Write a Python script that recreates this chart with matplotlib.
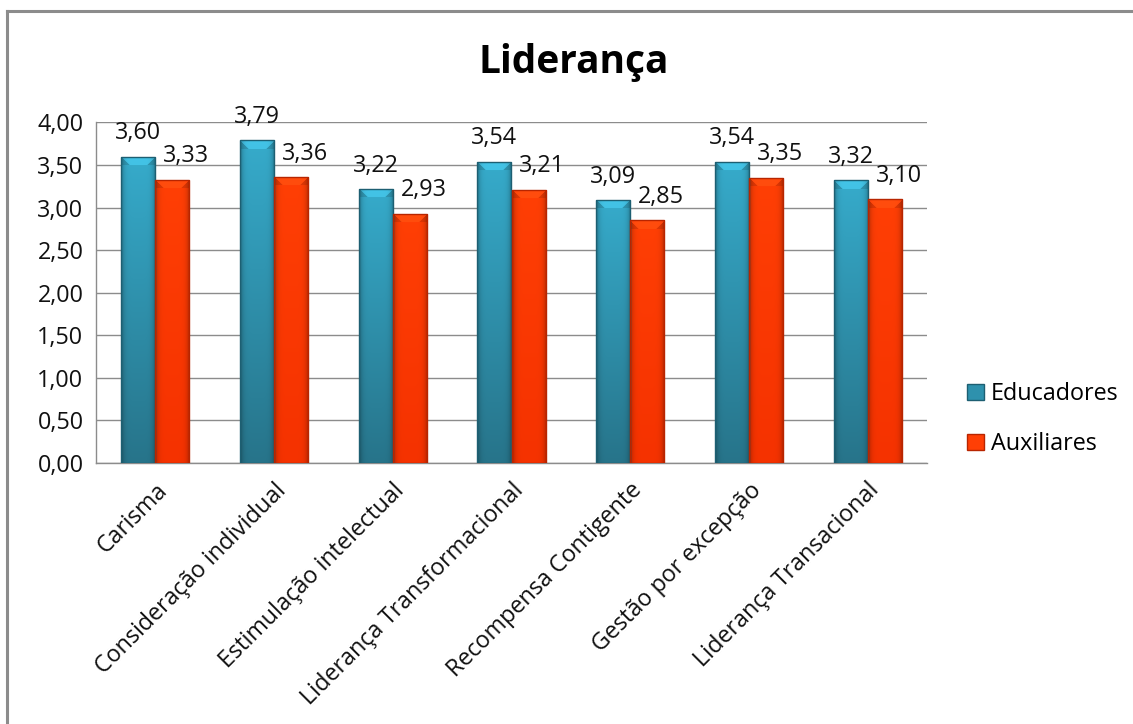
import matplotlib
matplotlib.use("Agg")
import matplotlib.pyplot as plt
import numpy as np
from matplotlib.lines import Line2D
from matplotlib.patches import Patch
from matplotlib.ticker import FuncFormatter

plt.rcParams['font.family'] = ['Open Sans', 'DejaVu Sans']

categorias = ["Carisma", "Consideração individual", "Estimulação intelectual",
              "Liderança Transformacional", "Recompensa Contigente",
              "Gestão por excepção", "Liderança Transacional"]
educadores = [3.60, 3.79, 3.22, 3.54, 3.09, 3.54, 3.32]
auxiliares = [3.33, 3.36, 2.93, 3.21, 2.85, 3.35, 3.10]
series_nomes = ["Educadores", "Auxiliares"]

W, H = 1133, 724
FS = 16.8
fig = plt.figure(figsize=(W / 100, H / 100), dpi=100)
ax = fig.add_axes([96 / W, 1 - 463 / H, (927 - 96) / W, (463 - 122.5) / H])

x = np.arange(len(categorias))
bw = 0.287

# colours: (top, bottom, edge)
blue = (np.array([0x36, 0xAB, 0xCB]) / 255, np.array([0x27, 0x74, 0x8A]) / 255, "#1d5f72")
red = (np.array([0xFF, 0x3F, 0x05]) / 255, np.array([0xF5, 0x32, 0x00]) / 255, "#b82500")

ax.set_xlim(-0.5, len(categorias) - 0.5)
ax.set_ylim(0, 4)
fig.canvas.draw()


def shade_bar(rect, cols):
    top, bot, edge = cols
    x0, y0 = rect.get_x(), rect.get_y()
    w, h = rect.get_width(), rect.get_height()
    p0 = ax.transData.transform((x0, y0))
    p1 = ax.transData.transform((x0 + w, y0 + h))
    npx_w = max(int(round(p1[0] - p0[0])), 2)
    npx_h = max(int(round(p1[1] - p0[1])), 2)
    t = np.linspace(0, 1, npx_h)[:, None]
    base = top[None, None, :] * (1 - t[..., None]) + bot[None, None, :] * t[..., None]
    img = np.repeat(base, npx_w, axis=1)
    u = np.linspace(-1, 1, npx_w)[None, :]
    shade = 1 - 0.30 * np.abs(u) ** 6
    img = img * shade[..., None]
    # top bevel
    bev = 9
    for r in range(min(bev, npx_h)):
        c0, c1 = r, npx_w - r
        img[r, :c0] = img[r, :c0] * 0.88
        img[r, c1:] = img[r, c1:] * 0.88
        img[r, c0:c1] = np.clip(img[r, c0:c1] * 1.10 + 0.03, 0, 1)
    im = ax.imshow(np.clip(img, 0, 1), extent=(x0, x0 + w, y0, y0 + h),
                   aspect='auto', zorder=3, interpolation='bilinear', origin='upper')
    im.set_clip_path(rect)
    rect.set_edgecolor(edge)
    rect.set_linewidth(1.0)
    rect.set_facecolor('none')
    rect.set_zorder(4)


bars1 = ax.bar(x - bw / 2, educadores, bw, color=blue[0], zorder=3)
bars2 = ax.bar(x + bw / 2, auxiliares, bw, color=red[0], zorder=3)
for r in bars1:
    shade_bar(r, blue)
for r in bars2:
    shade_bar(r, red)

ax.set_xlim(-0.5, len(categorias) - 0.5)
ax.set_ylim(0, 4)

fmt = lambda v: "{:.2f}".format(v).replace(".", ",")
for xi, v in zip(x, educadores):
    ax.annotate(fmt(v), (xi - bw / 2, v), xytext=(0, 12.5), textcoords='offset points',
                ha='center', va='baseline', fontsize=FS, color='#111111', zorder=5)
for xi, v in zip(x, auxiliares):
    ax.annotate(fmt(v), (xi + bw / 2, v), xytext=(10, 12.5), textcoords='offset points',
                ha='center', va='baseline', fontsize=FS, color='#111111', zorder=5)

ax.set_yticks(np.arange(0, 4.01, 0.5))
ax.yaxis.set_major_formatter(FuncFormatter(lambda v, p: fmt(v)))
ax.grid(axis='y', color='#8c8c8c', linewidth=1.0, zorder=0)
ax.set_axisbelow(True)
for s in ['top', 'right']:
    ax.spines[s].set_visible(False)
for s in ['left', 'bottom']:
    ax.spines[s].set_color('#8c8c8c')
    ax.spines[s].set_linewidth(1.0)
ax.tick_params(axis='y', length=0, pad=9, labelsize=FS, labelcolor='#111111')
ax.tick_params(axis='x', length=0, pad=11, labelsize=FS, labelcolor='#111111')
ax.set_xticks(x)
ax.set_xticklabels(categorias, rotation=45, ha='right', rotation_mode='anchor')

fig.text(574 / W, 1 - 62 / H, "Liderança", ha='center', va='center',
         fontsize=28, fontweight='bold', color='#000000')

handles = [Patch(facecolor=blue[0] * 0.85, edgecolor=blue[2]),
           Patch(facecolor=red[0], edgecolor=red[2])]
fig.legend(handles, series_nomes, loc='upper left', bbox_to_anchor=(958 / W, 1 - 373 / H),
           frameon=False, fontsize=FS, handlelength=0.7, handleheight=0.7,
           handletextpad=0.3, labelspacing=1.1, borderaxespad=0)

# outer chart frame (left and top edges visible)
fig.add_artist(Line2D([7 / W, 7 / W], [0, 1 - 10.5 / H], transform=fig.transFigure,
                      color='#8c8c8c', linewidth=2.2))
fig.add_artist(Line2D([7 / W, 1], [1 - 10.5 / H, 1 - 10.5 / H], transform=fig.transFigure,
                      color='#8c8c8c', linewidth=2.2))

fig.savefig("out.png", dpi=100)
